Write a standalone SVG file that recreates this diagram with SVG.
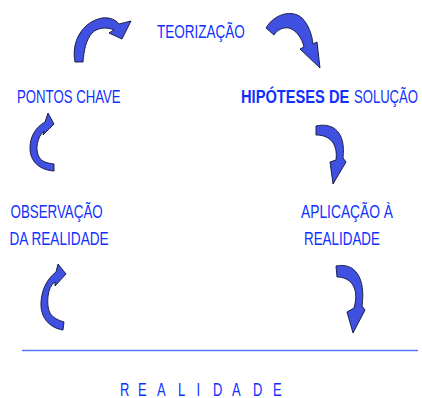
<svg xmlns="http://www.w3.org/2000/svg" width="422" height="398" viewBox="0 0 422 398">
<style>
.t{font-family:"Liberation Sans",Arial,sans-serif;font-size:18px;fill:#1030ff}
.b{font-weight:bold}
.arr{fill:#4050e0;stroke:#10143a;stroke-width:0.9;stroke-linejoin:round}
</style>
<rect width="422" height="398" fill="#ffffff"/>
<g id="connectors">
<path class="arr" d="M75,62 C71,42 82,22 102,18 C110,17 116,20 119,24 L131,21 L122,39 L109,33 L114,30 C108,27 98,27 92,33 C86,40 84,50 83,62 Z"/>
<path class="arr" d="M266,28 C274,14 292,9 302,18 C308,24 312,34 313,44 L317,42 L320,68 L300,49 L304,47 C302,38 296,30 289,28 C283,27 277,30 274,35 Z"/>
<path class="arr" d="M48,113 L54,124 L43,135 L44,131 C37,137 35,150 39,157 C42,162 47,163 54,164 L54,171 C40,170 30,162 30,148 C30,136 36,127 45,122 Z"/>
<path class="arr" d="M316,126 C334,122 346,133 343,158 L346,162 L333,184 L330,162 L336,160 C338,144 330,135 316,135 Z"/>
<path class="arr" d="M58,264 L66,274 L55,286 L55,282 C47,286 46,306 50,313 C53,318 58,320 64,322 L63,330 C50,328 40,318 41,302 C42,288 48,278 56,272 Z"/>
<path class="arr" d="M336,266 C355,262 366,278 362,306 L365,310 L353,333 L347,312 L354,308 C360,287 350,277 337,277 Z"/>
</g>
<g id="teorizacao"><text class="t" transform="translate(157,38) scale(0.751,1)">TEORIZAÇÃO</text></g>
<g id="pontos-chave"><text class="t" transform="translate(17,102.5) scale(0.734,1)">PONTOS CHAVE</text></g>
<g id="hipoteses"><text class="t b" transform="translate(241,102.5) scale(0.815,1)">HIPÓTESES DE</text><text class="t" transform="translate(354,102.5) scale(0.727,1)">SOLUÇÃO</text></g>
<g id="observacao"><text class="t" transform="translate(10.5,217.5) scale(0.742,1)">OBSERVAÇÃO</text><text class="t" transform="translate(9.5,244.5) scale(0.757,1)">DA REALIDADE</text></g>
<g id="aplicacao"><text class="t" transform="translate(301,217.5) scale(0.767,1)">APLICAÇÃO À</text><text class="t" transform="translate(304,244.5) scale(0.745,1)">REALIDADE</text></g>
<g id="realidade">
<line x1="22" y1="350.5" x2="418" y2="350.5" stroke="#5a78ff" stroke-width="1.5"/>
<text class="t" transform="translate(120,396) scale(0.72,1)" x="0 25 51.4 80.6 106.3 129.2 155.6 184.7 212.5" y="0">REALIDADE</text>
</g>
</svg>
